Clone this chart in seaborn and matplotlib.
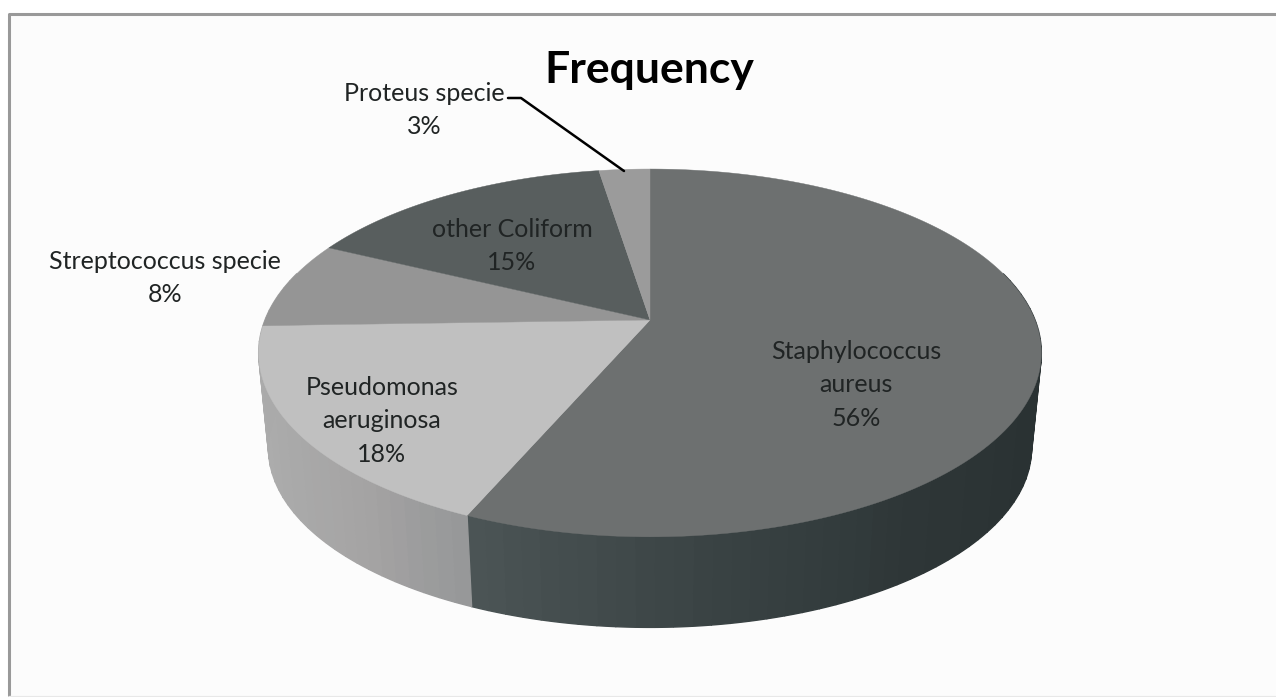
#!/usr/bin/env python3
# -*- coding: utf-8 -*-
import numpy as np
import matplotlib
matplotlib.use('Agg')
import matplotlib.pyplot as plt
import seaborn as sns

# ==================== data ====================
title = "Frequency"
species = ["Staphylococcus\naureus", "Pseudomonas\naeruginosa", "Streptococcus specie",
           "other Coliform", "Proteus specie"]
shares = [56.5, 18.0, 7.7, 15.3, 2.5]
pct_labels = ["56%", "18%", "8%", "15%", "3%"]
top_colors = ["#6d7070", "#c0c0c0", "#959595", "#585e5e", "#9b9b9b"]
side_colors = [["#2a3233", "#2a3233", "#2a3233", "#2a3233", "#2a3233", "#2e3637", "#3a4344", "#4b5455"],
               ["#979899", "#a5a4a4", "#a9a9a9", "#acacac", "#aaaaaa"],
               ["#aaaaaa", "#aaaaaa"],
               ["#3a3f3f", "#3a3f3f"],
               ["#777777", "#777777"]]
label_xy = [(856, 385), (382, 421), (165, 278), (512, 246), (424, 110)]

# ==================== projection of the tilted disc ====================
CX, CY_TOP, CY_BOT = 650, 320, 416
RX, RY, PERSP, BOT_SCALE = 385, 178, 0.179, 0.975


def project(ang, cy=CY_TOP, scale=1.0):
    """angle on the disc -> picture position, far side drawn smaller"""
    w = 1 + PERSP * np.sin(ang)
    return CX + scale * RX * np.cos(ang) / w, cy - scale * RY * np.sin(ang) / w


sns.set_theme(style='white')
plt.rcParams['font.family'] = ['Lato', 'DejaVu Sans']

fig = plt.figure(figsize=(12.76, 6.97), dpi=100, facecolor='white')
ax = fig.add_axes([0, 0, 1, 1])
ax.set_xlim(0, 1276)
ax.set_ylim(697, 0)
ax.axis('off')

# chart frame
ax.fill_between([9, 1276], 14, 695, color='#fcfcfc', lw=0, zorder=0)
ax.plot([9, 9, 1276], [695, 14, 14], color='#999999', lw=2.2, zorder=1)
ax.plot([9, 1276], [695.5, 695.5], color='#e8e8e8', lw=1, zorder=1)

edges = np.cumsum([0] + shares) / np.sum(shares)
angles = np.pi / 2 - 2 * np.pi * edges

for i in range(len(shares)):
    a0, a1 = angles[i], angles[i + 1]

    # side wall, only the part turned to the viewer
    steps = np.linspace(a0, a1, max(int(abs(a1 - a0) * 24), 2) + 1)
    strip_cols = sns.blend_palette(side_colors[i], len(steps) - 1)
    for s0, s1, col in zip(steps[:-1], steps[1:], strip_cols):
        if np.sin(s0) > 0.25 and np.sin(s1) > 0.25:
            continue
        arc = np.linspace(s0, s1, 12)
        xt, yt = project(arc)
        xb, yb = project(arc[::-1], CY_BOT, BOT_SCALE)
        ax.fill(np.r_[xt, xb], np.r_[yt, yb], color=col, lw=1.0, zorder=2)

for i in range(len(shares)):
    # top face
    arc = np.linspace(angles[i], angles[i + 1], 200)
    xs, ys = project(arc)
    ax.fill(np.r_[CX, xs], np.r_[CY_TOP, ys], color=top_colors[i], lw=0.3, zorder=3)

ax.plot([508, 521, 624], [98, 98, 171], color='black', lw=1.8, zorder=4)

for name, pct, (x, y) in zip(species, pct_labels, label_xy):
    ax.text(x, y, f"{name}\n{pct}", ha='center', va='center', fontsize=18,
            color='#202424', linespacing=1.55, zorder=5)

ax.text(649, 70, title, ha='center', va='center', fontsize=32, fontweight='bold',
        color='black', zorder=5)

plt.savefig('out.png', dpi=100)
plt.close()
